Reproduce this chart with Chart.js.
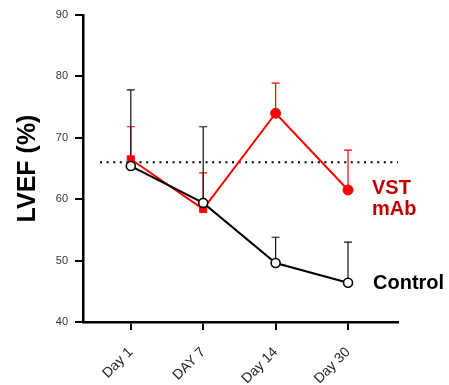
<!DOCTYPE html>
<html>
<head>
<meta charset="utf-8">
<script src="https://cdn.jsdelivr.net/npm/chart.js@4.4.1/dist/chart.umd.min.js"></script>
<style>
html,body{margin:0;padding:0;background:#fff;}
#wrap{width:449px;height:385px;position:relative;}
</style>
</head>
<body>
<div id="wrap"><canvas id="c" width="449" height="385"></canvas></div>
<script>
const categories = ['Day 1', 'DAY 7', 'Day 14', 'Day 30'];
const vstMean = [66.5, 58.4, 74.0, 61.5];
const vstErr = [5.3, 5.9, 4.9, 6.5];
const ctrlMean = [65.4, 59.4, 49.6, 46.4];
const ctrlErr = [12.4, 12.4, 4.2, 6.6];
const yTicks = [40, 50, 60, 70, 80, 90];
const referenceLine = 66;
const seriesNames = ['Control', 'VST mAb'];

const FONT = 'Liberation Sans, Arial, sans-serif';

const errorBars = {
  id: 'errorBars',
  beforeDatasetsDraw(chart) {
    const ctx = chart.ctx;
    const x = chart.scales.x, y = chart.scales.y;
    const area = chart.chartArea;
    ctx.save();
    ctx.strokeStyle = '#000';
    ctx.lineWidth = 2;
    ctx.setLineDash([2, 4.6]);
    const ry = y.getPixelForValue(referenceLine);
    ctx.beginPath();
    ctx.moveTo(area.left + 17, ry);
    ctx.lineTo(area.right, ry);
    ctx.stroke();
    ctx.restore();
    const sets = [
      {mean: vstMean, err: vstErr, color: '#ff0000'},
      {mean: ctrlMean, err: ctrlErr, color: '#111'}
    ];
    sets.forEach(s => {
      ctx.save();
      ctx.strokeStyle = s.color;
      ctx.lineWidth = 1.2;
      s.mean.forEach((m, i) => {
        const px = x.getPixelForValue(i);
        const y0 = y.getPixelForValue(m);
        const y1 = y.getPixelForValue(m + s.err[i]);
        ctx.beginPath();
        ctx.moveTo(px, y0);
        ctx.lineTo(px, y1);
        ctx.moveTo(px - 4, y1);
        ctx.lineTo(px + 4, y1);
        ctx.stroke();
      });
      ctx.restore();
    });
  },
  afterDraw(chart) {
    const ctx = chart.ctx;
    const x = chart.scales.x, y = chart.scales.y;
    const last = categories.length - 1;
    ctx.save();
    ctx.font = 'bold 20px ' + FONT;
    ctx.textBaseline = 'middle';
    ctx.textAlign = 'left';
    const vx = x.getPixelForValue(last) + 24;
    const vy = y.getPixelForValue(vstMean[last]);
    ctx.fillStyle = '#c00000';
    ctx.fillText('VST', vx, vy - 2);
    ctx.fillText('mAb', vx, vy + 19);
    const cy = y.getPixelForValue(ctrlMean[last]);
    ctx.fillStyle = '#000';
    ctx.fillText(seriesNames[0], vx + 1, cy + 1);
    ctx.restore();
  }
};

new Chart(document.getElementById('c'), {
  type: 'line',
  data: {
    datasets: [
      {
        label: seriesNames[0],
        data: ctrlMean.map((v, i) => ({x: i, y: v})),
        borderColor: '#000',
        borderWidth: 2,
        pointStyle: 'circle',
        pointRadius: 4.5,
        pointBackgroundColor: '#fff',
        pointBorderColor: '#000',
        pointBorderWidth: 1.6,
        tension: 0
      },
      {
        label: seriesNames[1],
        data: vstMean.map((v, i) => ({x: i, y: v})),
        borderColor: '#ff0000',
        borderWidth: 2,
        pointStyle: ['rect', 'rect', 'circle', 'circle'],
        pointRadius: 5,
        pointBackgroundColor: '#ff0000',
        pointBorderColor: '#ff0000',
        pointBorderWidth: 1,
        tension: 0
      }
    ]
  },
  options: {
    responsive: false,
    animation: false,
    layout: {padding: {top: 15, right: 51, left: 0, bottom: 0}},
    plugins: {legend: {display: false}, tooltip: {enabled: false}},
    scales: {
      x: {
        type: 'linear',
        min: -0.66,
        max: 3.69,
        afterBuildTicks(scale) { scale.ticks = categories.map((c, i) => ({value: i})); },
        afterFit(scale) { scale.height = 63; },
        ticks: {
          callback: (v) => categories[v],
          minRotation: 45,
          maxRotation: 45,
          autoSkip: false,
          color: '#222',
          padding: 14,
          font: {family: FONT, size: 14}
        },
        grid: {drawOnChartArea: false, drawTicks: true, tickLength: 8, color: '#000', lineWidth: 2},
        border: {display: true, color: '#000', width: 2.5}
      },
      y: {
        min: 40,
        max: 90,
        afterBuildTicks(scale) { scale.ticks = yTicks.map(v => ({value: v})); },
        afterFit(scale) { scale.width = 83; },
        ticks: {
          color: '#333',
          padding: 7,
          font: {family: FONT, size: 11}
        },
        title: {
          display: true,
          text: 'LVEF (%)',
          color: '#000',
          font: {family: FONT, size: 25, weight: 'bold'},
          padding: {top: 13, bottom: 0}
        },
        grid: {drawOnChartArea: false, drawTicks: true, tickLength: 8, color: '#000', lineWidth: 2},
        border: {display: true, color: '#000', width: 2.5}
      }
    }
  },
  plugins: [errorBars]
});
</script>
</body>
</html>
